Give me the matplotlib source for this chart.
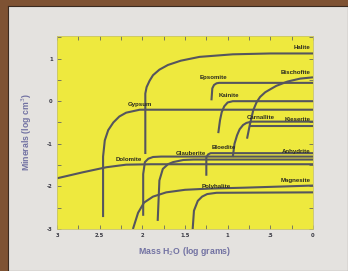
import matplotlib
matplotlib.use("Agg")
import matplotlib.pyplot as plt
import numpy as np

# curves: x = log grams H2O, y = log cm^3
halite_x = [1.965, 1.965, 1.95, 1.915, 1.875, 1.80, 1.70, 1.55, 1.33, 0.94, 0.5, 0.0]
halite_y = [-1.24, 0.18, 0.33, 0.48, 0.61, 0.74, 0.85, 0.95, 1.04, 1.10, 1.12, 1.12]

gypsum_x = [2.46, 2.46, 2.44, 2.40, 2.34, 2.27, 2.19, 2.03, 0.0]
gypsum_y = [-2.72, -1.30, -0.92, -0.68, -0.50, -0.36, -0.27, -0.20, -0.20]

dolomite_x = [3.0, 2.70, 2.42, 2.19, 1.9, 0.0]
dolomite_y = [-1.81, -1.67, -1.55, -1.49, -1.48, -1.48]

epsomite_x = [1.19, 1.18, 1.16, 1.13, 1.10, 0.0]
epsomite_y = [0.02, 0.30, 0.38, 0.42, 0.43, 0.43]

bischofite_x = [0.773, 0.74, 0.70, 0.66, 0.62, 0.56, 0.50, 0.43, 0.30, 0.15, 0.0]
bischofite_y = [-0.88, -0.55, -0.21, -0.02, 0.10, 0.21, 0.28, 0.36, 0.46, 0.53, 0.56]

kainite_x = [1.11, 1.09, 1.07, 1.04, 1.00, 0.94, 0.0]
kainite_y = [-0.75, -0.45, -0.26, -0.12, -0.03, 0.0, 0.0]

carnallite_x = [0.94, 0.92, 0.89, 0.86, 0.82, 0.78, 0.72, 0.0]
carnallite_y = [-1.31, -1.00, -0.80, -0.66, -0.56, -0.51, -0.48, -0.48]

kieserite_x = [0.745, 0.0]
kieserite_y = [-0.58, -0.58]

bloedite_x = [1.25, 1.25, 1.23, 1.20, 0.0]
bloedite_y = [-1.75, -1.32, -1.25, -1.22, -1.22]

glauberite_x = [1.99, 1.99, 1.97, 1.93, 1.875, 1.78, 0.0]
glauberite_y = [-2.69, -1.71, -1.43, -1.35, -1.31, -1.30, -1.30]

anhydrite_x = [1.82, 1.80, 1.76, 1.70, 1.64, 1.52, 1.40, 0.0]
anhydrite_y = [-2.81, -1.86, -1.59, -1.48, -1.43, -1.38, -1.37, -1.37]

magnesite_x = [2.11, 2.05, 1.98, 1.875, 1.72, 1.5, 1.2, 0.8, 0.0]
magnesite_y = [-3.0, -2.62, -2.38, -2.24, -2.14, -2.08, -2.05, -2.03, -1.98]

polyhalite_x = [1.41, 1.395, 1.35, 1.30, 1.24, 1.13, 0.0]
polyhalite_y = [-3.0, -2.57, -2.34, -2.24, -2.18, -2.15, -2.14]

curves = [
    (halite_x, halite_y), (gypsum_x, gypsum_y), (dolomite_x, dolomite_y),
    (epsomite_x, epsomite_y), (bischofite_x, bischofite_y), (kainite_x, kainite_y),
    (carnallite_x, carnallite_y), (kieserite_x, kieserite_y), (bloedite_x, bloedite_y),
    (glauberite_x, glauberite_y), (anhydrite_x, anhydrite_y),
    (magnesite_x, magnesite_y), (polyhalite_x, polyhalite_y),
]

# labels: name, x, y, alignment
label_names = ["Halite", "Bischofite", "Kieserite", "Anhydrite", "Magnesite",
               "Epsomite", "Kainite", "Gypsum", "Carnallite", "Bloedite",
               "Glauberite", "Dolomite", "Polyhalite"]
label_x = [0.03, 0.03, 0.03, 0.03, 0.03, 1.17, 0.98, 2.03, 0.61, 1.05, 1.43, 2.16, 1.13]
label_y = [1.26, 0.68, -0.43, -1.18, -1.86, 0.55, 0.13, -0.07, -0.39, -1.08, -1.22, -1.37, -2.0]
label_ha = ["right"] * 5 + ["center"] * 8

xticks = [3, 2.5, 2, 1.5, 1, 0.5, 0]
xticklabels = ["3", "2.5", "2", "1.5", "1", ".5", "0"]
yticks = [1, 0, -1, -2, -3]
yticklabels = ["1", "0", "-1", "-2", "-3"]

fig = plt.figure(figsize=(3.48, 2.71), dpi=100)
fig.patch.set_facecolor("#7e5233")

# slide panel
panel = fig.add_axes([8 / 348, 0, 1 - 8 / 348, 1 - 6 / 271])
panel.set_facecolor("#e4e2df")
panel.set_xticks([])
panel.set_yticks([])
for s in panel.spines.values():
    s.set_color("#3a2a20")
    s.set_linewidth(0.8)

ax = fig.add_axes([57 / 348, 1 - 229 / 271, 256 / 348, 193 / 271])
ax.set_facecolor("#eee93e")

line_col = "#55555e"
for xs, ys in curves:
    ax.plot(xs, ys, color=line_col, lw=1.5, solid_capstyle="butt",
            solid_joinstyle="round")

for name, lx, ly, ha in zip(label_names, label_x, label_y, label_ha):
    ax.text(lx, ly, name, fontsize=4.4, fontweight="bold", ha=ha, va="center",
            color="#2a2a20", family="Liberation Sans")

ax.set_xlim(3, 0)
ax.set_ylim(-3, 1.53)
ax.set_xticks(np.arange(0, 3.01, 0.25), minor=True)
ax.set_xticks(xticks)
ax.set_xticklabels(xticklabels)
ax.set_yticks(np.arange(-3, 1.51, 0.5), minor=True)
ax.set_yticks(yticks)
ax.set_yticklabels(yticklabels)
ax.tick_params(which="both", direction="in", length=3, width=0.7, color="#7a7a60",
               top=True, right=True, labelsize=3.8, labelcolor="#3a3a44", pad=3)
for lab in ax.get_xticklabels() + ax.get_yticklabels():
    lab.set_fontweight("bold")
for s in ax.spines.values():
    s.set_color("#c8c46a")
    s.set_linewidth(0.6)

ax.set_xlabel("Mass H$_2$O (log grams)", fontsize=6.3, color="#7272a2",
              fontweight="bold", family="Liberation Sans", labelpad=5)
ax.set_ylabel("Minerals (log cm$^3$)", fontsize=6.3, color="#7272a2",
              fontweight="bold", family="Liberation Sans", labelpad=9)

fig.savefig("out.png", dpi=100)
